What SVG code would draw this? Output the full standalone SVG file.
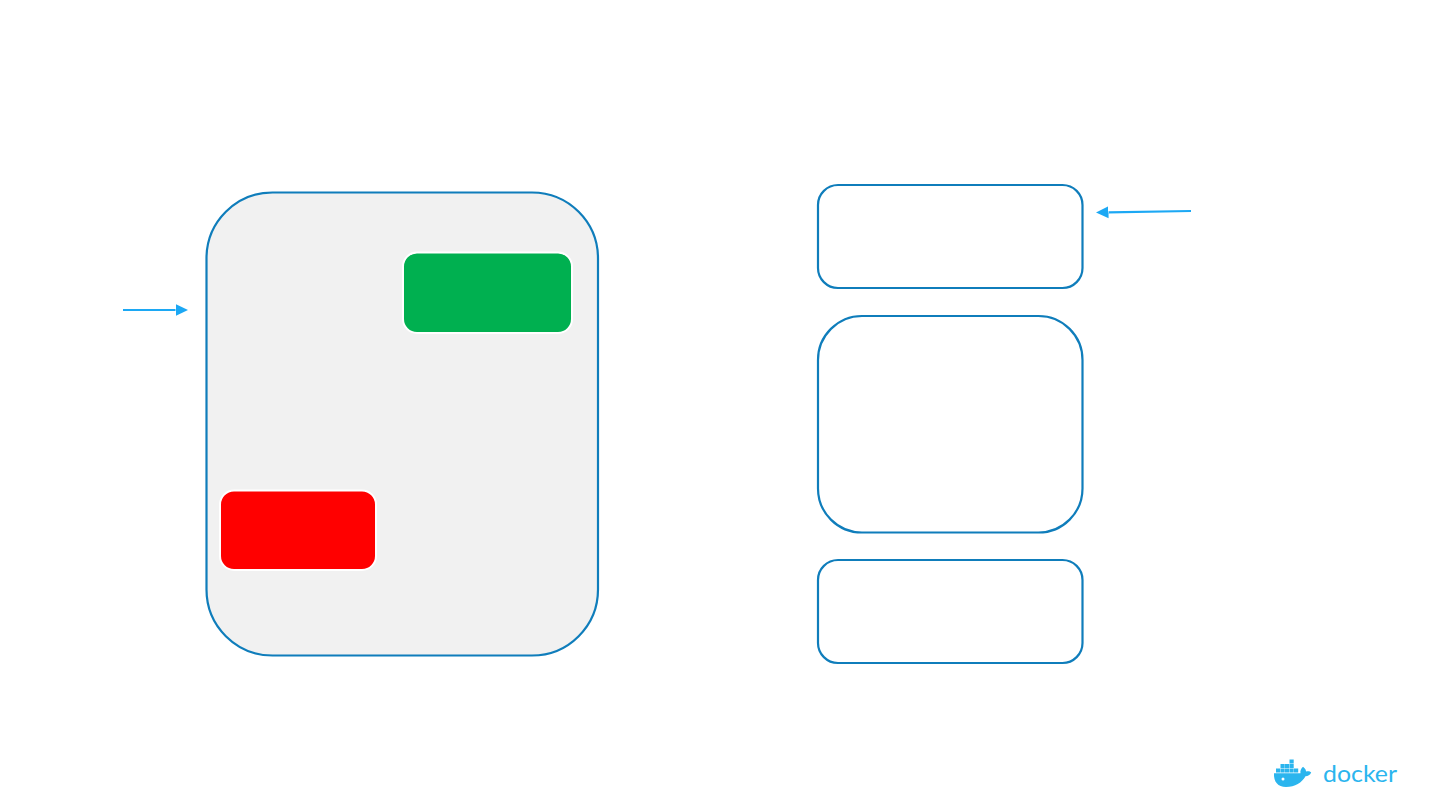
<svg xmlns="http://www.w3.org/2000/svg" width="1440" height="810" viewBox="0 0 1440 810">
<style>
.box{fill:#fff;stroke:#0f7dbb;stroke-width:2.2}
.inner{stroke:#fff;stroke-width:2}
.conn{fill:none;stroke:#1ca8f4;stroke-width:2.2}
.crate{fill:#2bb5ee}
</style>
<defs>
<marker id="arrow" markerUnits="userSpaceOnUse" markerWidth="13" markerHeight="13" refX="0" refY="6.5" orient="auto"><path d="M0 0.5L12.5 6.5L0 12.5Z" fill="#1ca8f4"/></marker>
</defs>
<rect width="1440" height="810" fill="#fff"/>
<g id="host"><rect class="box" style="fill:#f1f1f1" x="206.5" y="192.5" width="391.5" height="463" rx="66" ry="66"/></g>
<g id="green-block"><rect class="inner" fill="#00b050" x="403" y="252.5" width="169" height="80.5" rx="14"/></g>
<g id="red-block"><rect class="inner" fill="#ff0000" x="220" y="490.5" width="156" height="79.5" rx="14"/></g>
<g id="box-top"><rect class="box" x="818" y="185" width="264.5" height="103" rx="20"/></g>
<g id="box-middle"><rect class="box" x="818" y="316" width="264.5" height="216.5" rx="44"/></g>
<g id="box-bottom"><rect class="box" x="818" y="560" width="264.5" height="103" rx="20"/></g>
<g id="connectors">
<path class="conn" d="M123 310H175.5" marker-end="url(#arrow)"/>
<path class="conn" d="M1191 211L1108.5 212.3" marker-end="url(#arrow)"/>
</g>
<g id="docker-logo">
<g class="crate">
<rect x="1276" y="768.5" width="4.2" height="4"/><rect x="1280.5" y="768.5" width="4.2" height="4"/><rect x="1285" y="768.5" width="4.2" height="4"/><rect x="1289.5" y="768.5" width="4.2" height="4"/><rect x="1294" y="768.5" width="4.2" height="4"/>
<rect x="1280.5" y="764" width="4.2" height="4"/><rect x="1285" y="764" width="4.2" height="4"/><rect x="1289.5" y="764" width="4.2" height="4"/>
<rect x="1289.5" y="759.5" width="4.2" height="4"/>
</g>
<path class="crate" d="M1274 773.3H1300.5C1300 771 1300.8 768.8 1303 766.8C1305 768.3 1306 770 1306 771.6C1308 771 1310 771.2 1311.2 772.6C1310 775.2 1308 776.2 1305.5 776.2C1302 782.5 1295 787 1286 787C1278 787 1273.5 782 1274 773.3Z"/>
<circle cx="1283" cy="779" r="1.5" fill="#fff"/>
<text x="1323" y="781.7" font-family="Lato, 'Liberation Sans', sans-serif" font-size="23.5" font-weight="400" fill="#2bb5ee" textLength="74" lengthAdjust="spacingAndGlyphs">docker</text>
</g>
</svg>
